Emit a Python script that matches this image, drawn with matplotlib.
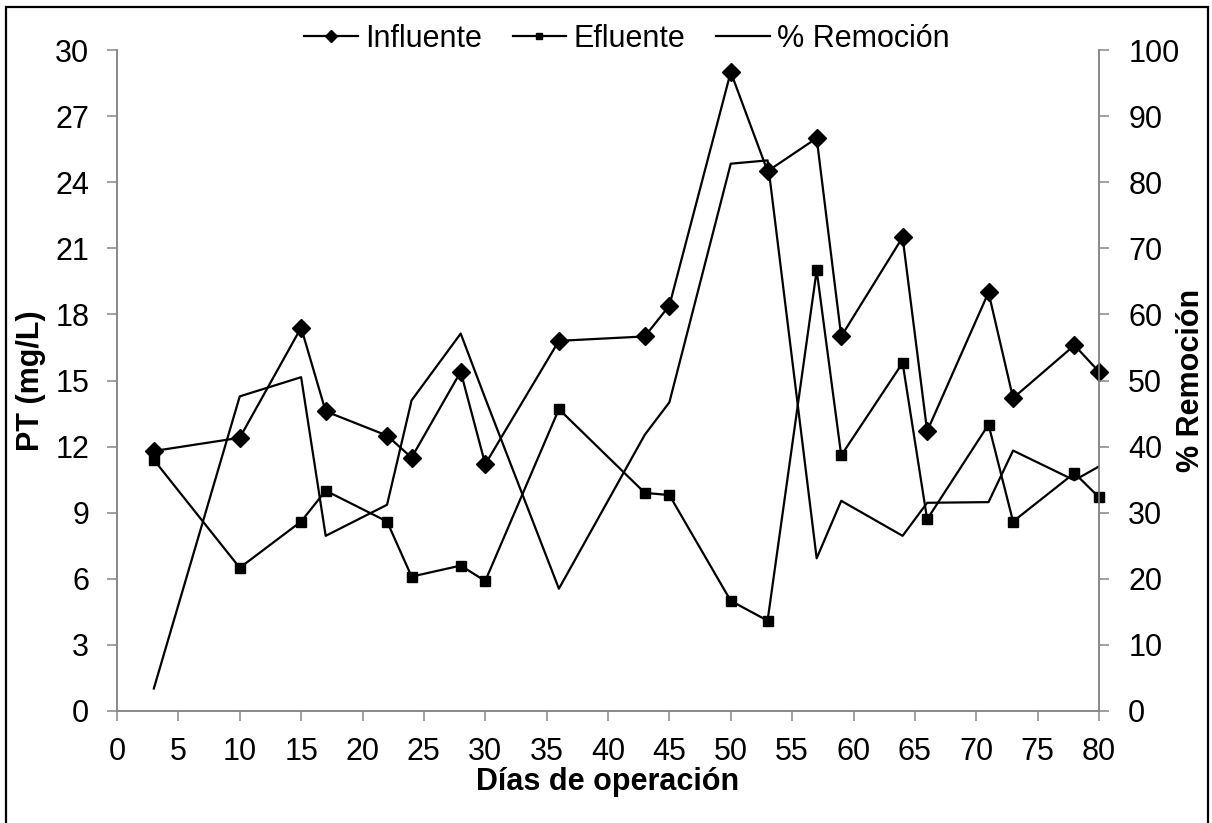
import matplotlib
matplotlib.use('Agg')
import matplotlib.pyplot as plt
from matplotlib.patches import Rectangle

plt.rcParams['font.family'] = ['Liberation Sans', 'DejaVu Sans']

# Datos
dias = [3, 10, 15, 17, 22, 24, 28, 30, 36, 43, 45, 50, 53, 57, 59, 64, 66, 71, 73, 78, 80]
influente = [11.8, 12.4, 17.4, 13.6, 12.5, 11.5, 15.4, 11.2, 16.8, 17.0, 18.4,
             29.0, 24.5, 26.0, 17.0, 21.5, 12.7, 19.0, 14.2, 16.6, 15.4]
efluente = [11.4, 6.5, 8.6, 10.0, 8.6, 6.1, 6.6, 5.9, 13.7, 9.9, 9.8,
            5.0, 4.1, 20.0, 11.6, 15.8, 8.7, 13.0, 8.6, 10.8, 9.7]
remocion = [3.4, 47.6, 50.5, 26.5, 31.2, 47.0, 57.1, 47.3, 18.5, 41.8, 46.7,
            82.8, 83.3, 23.1, 31.8, 26.5, 31.5, 31.6, 39.4, 34.9, 37.0]

fs = 22
gris = '#868686'

fig = plt.figure(figsize=(12.12, 8.23), dpi=100)
ax = fig.add_axes([117/1212, 112/823, 982/1212, 661/823])
ax2 = ax.twinx()

l1, = ax.plot(dias, influente, color='black', lw=1.6, marker='D', markersize=9.5,
              clip_on=False, zorder=3, label='Influente')
l2, = ax.plot(dias, efluente, color='black', lw=1.6, marker='s', markersize=7.5,
              clip_on=False, zorder=3, label='Efluente')
l3, = ax2.plot(dias, remocion, color='black', lw=1.6, label='% Remoción')

ax.set_xlim(0, 80)
ax.set_ylim(0, 30)
ax2.set_ylim(0, 100)
ax.set_xticks(range(0, 81, 5))
ax.set_yticks(range(0, 31, 3))
ax2.set_yticks(range(0, 101, 10))

for a in (ax, ax2):
    for s in a.spines.values():
        s.set_color(gris)
        s.set_linewidth(1.1)
    a.spines['top'].set_visible(False)
    a.tick_params(direction='out', length=7, width=1.1, color=gris,
                  labelsize=fs, labelcolor='black')
ax.tick_params(axis='y', pad=13)
ax.tick_params(axis='x', pad=12)
ax2.tick_params(axis='y', pad=14)

ax.set_xlabel('Días de operación', fontsize=fs, fontweight='bold')
ax.set_ylabel('PT (mg/L)', fontsize=fs, fontweight='bold')
ax2.set_ylabel('% Remoción', fontsize=fs, fontweight='bold')
ax.xaxis.set_label_coords(0.5, -0.108)
ax.yaxis.set_label_coords(-0.088, 0.5)
ax2.yaxis.set_label_coords(1.094, 0.5)
ax2.yaxis.label.set_verticalalignment('center')
ax.yaxis.label.set_verticalalignment('center')
ax.xaxis.label.set_verticalalignment('center')

fig.legend(handles=[l1, l2, l3], loc='center', bbox_to_anchor=(627/1212, 1 - 39/823),
           ncol=3, frameon=False, fontsize=fs, markerscale=0.65,
           handlelength=1.75, handletextpad=0.25, columnspacing=1.0, borderpad=0)

# Marco de la figura (el borde inferior queda fuera de la imagen)
fig.patches.append(Rectangle((6/1212, -10/823), 1202/1212, 826/823, transform=fig.transFigure,
                             fill=False, edgecolor='black', lw=1.6))

fig.savefig('out.png', dpi=100)
